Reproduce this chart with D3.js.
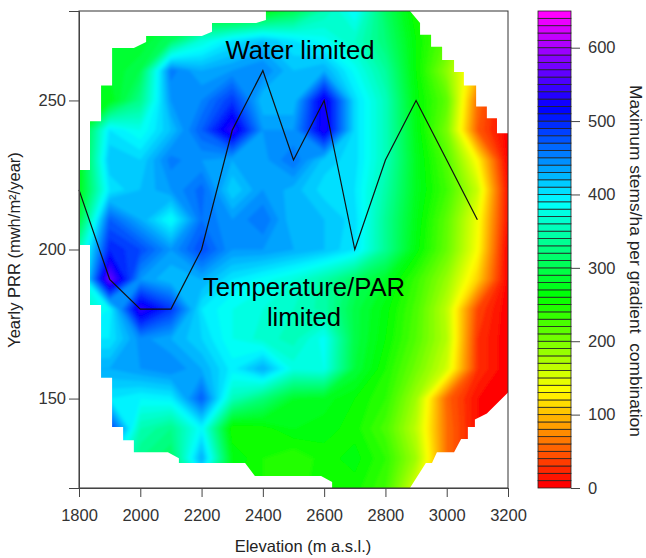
<!DOCTYPE html>
<html>
<head>
<meta charset="utf-8">
<title>Maximum stems per gradient combination</title>
<script src="https://cdn.jsdelivr.net/npm/d3@7"></script>
<style>
	html, body { margin: 0; padding: 0; background: #fff; }
	svg { display: block; font-family: "Liberation Sans", Arial, sans-serif; }
	.axis text { font-size: 16.5px; fill: #333; }
	.axis path, .axis line { stroke: #444; stroke-width: 1px; }
	.axis-title { font-size: 16.5px; fill: #222; }
	.note { font-size: 25.7px; fill: #000; text-anchor: middle; }
</style>
</head>
<body>
<svg id="chart" width="646" height="558"></svg>
<script>
// grid nodes of the surface
var aElevation = [1800,1900,2000,2100,2200,2300,2400,2500,2600,2700,2800,2900,3000,3100,3200];
var aPrr = [280,270,260,250,240,230,220,210,200,190,180,170,160,150,140,130,120];

// stems/ha, one row per aPrr entry
var aStems280 = [270,270,270,270,260,250,265,300,350,390,310,250,220,150,80];
var aStems270 = [280,280,280,310,370,400,420,400,385,360,320,260,215,120,40];
var aStems260 = [280,280,300,455,430,440,450,420,430,385,340,260,190,100,20];
var aStems250 = [270,270,330,440,450,490,420,420,530,405,355,265,215,60,0];
var aStems240 = [270,400,380,420,470,540,440,440,530,405,355,270,200,50,0];
var aStems230 = [270,420,410,455,440,430,435,460,415,405,355,275,220,130,0];
var aStems220 = [270,400,420,440,465,410,440,425,405,400,345,275,230,160,10];
var aStems210 = [290,470,430,385,460,440,460,420,420,405,335,270,215,140,10];
var aStems200 = [350,500,480,440,480,440,440,430,420,400,335,265,210,135,0];
var aStems190 = [350,570,440,420,430,400,385,370,345,310,280,235,185,110,0];
var aStems180 = [350,390,540,490,400,380,370,360,345,295,265,225,165,40,0];
var aStems170 = [400,400,445,430,410,380,365,355,385,295,260,220,170,30,0];
var aStems160 = [430,430,440,450,430,395,430,375,380,290,250,205,155,30,0];
var aStems150 = [400,400,390,395,470,355,320,280,275,260,240,180,55,10,0];
var aStems140 = [490,490,350,330,390,250,255,270,265,255,225,165,60,10,0];
var aStems130 = [400,400,330,310,430,270,250,240,255,265,240,180,60,10,0];
var aStems120 = [400,400,330,310,360,260,250,240,260,255,230,150,60,10,0];

var aStemRows = [aStems280,aStems270,aStems260,aStems250,aStems240,aStems230,aStems220,aStems210,
	aStems200,aStems190,aStems180,aStems170,aStems160,aStems150,aStems140,aStems130,aStems120];

// outline of the sampled area, elevation and PRR
var aOutlineElevation = [2410,2880,2913,2913,2949,2949,2985,2985,3024,3024,3056,3056,3096,3096,3131,3131,3164,3164,3200,3200,
	3131,3092,3092,3069,3069,3047,3024,2968,2952,2932,2880,2626,2626,2590,2374,2342,2126,2126,2090,1979,1979,1944,1944,1908,1908,
	1872,1872,1836,1836,1800,1800,1836,1836,1872,1872,1908,1908,1979,2019,2019,2201,2234,2234,2378,2410];
var aOutlinePrr = [280,280,276,272,272,268,268,263.6,263.6,259.5,259.5,255,255,248,248,244,244,239,239,152,
	145,143,140.5,140.5,136.4,136.4,132,132,128.4,128.4,120,120,122,124,124,128.4,128.4,130,132,132,136,136,140.5,140.5,157,
	157,181.4,181.4,201.5,201.5,226.7,226.7,243,243,255,255,267.6,267.6,269.6,271.6,271.6,273,276,276,277];

// limit line
var aLineElevation = [1800,1900,2000,2100,2200,2300,2400,2500,2600,2700,2800,2900,3000,3100];
var aLinePrr = [220,190,180,180,200,240,260,230,250,200,230,250,230,210];

var aElevationTicks = [1800,2000,2200,2400,2600,2800,3000,3200];
var aPrrTicks = [150,200,250];
var aLegendTicks = [0,100,200,300,400,500,600];
var aLevels = d3.range(0,650,10);

function DrawChart(vSelector)
{
	var sSvg = d3.select(vSelector);

	var nLeft = 79;
	var nRight = 508;
	var nTop = 11;
	var nBottom = 488;
	var nLegendLeft = 538;
	var nLegendRight = 571;

	var scaleX = d3.scaleLinear().domain([1800,3200]).range([nLeft,nRight]);
	var scaleY = d3.scaleLinear().domain([120,280]).range([nBottom,nTop]);
	var scaleLegend = d3.scaleLinear().domain([0,650]).range([nBottom,nTop]);

	function LevelColor(nLevel)
	{
		return d3.hsl(300 * aLevels.indexOf(nLevel) / (aLevels.length - 1), 1, 0.5).formatHex();
	}

	var sDefs = sSvg.append('defs');

	sDefs.append('clipPath')
		.attr('id', 'area-clip')
		.append('path')
			.attr('d', d3.line()
				.x(function(d) { return scaleX(d); })
				.y(function(d,i) { return scaleY(aOutlinePrr[i]); })
				.curve(d3.curveLinearClosed)(aOutlineElevation));

	// bands are softer in the reference
	sDefs.append('filter')
		.attr('id', 'soft')
		.attr('x', '-5%').attr('y', '-5%').attr('width', '110%').attr('height', '110%')
		.append('feGaussianBlur')
			.attr('stdDeviation', 1.6);

	var nStepX = aElevation[1] - aElevation[0];
	var nStepY = aPrr[0] - aPrr[1];
	var pathGrid = d3.geoPath(d3.geoTransform({
		point: function(x,y)
		{
			this.stream.point(
				scaleX(aElevation[0] + (x - 0.5) * nStepX),
				scaleY(aPrr[0] - (y - 0.5) * nStepY));
		}
	}));

	var aContours = d3.contours()
		.size([aElevation.length, aPrr.length])
		.thresholds(aLevels)
		(d3.merge(aStemRows));

	sSvg.append('g')
		.attr('clip-path', 'url(#area-clip)')
		.append('g')
			.attr('filter', 'url(#soft)')
			.selectAll('path')
			.data(aContours)
			.enter()
				.append('path')
					.attr('d', pathGrid)
					.attr('fill', function(d) { return LevelColor(d.value); })
					.attr('stroke', function(d) { return LevelColor(d.value); })
					.attr('stroke-width', 0.5);

	// limit line
	sSvg.append('path')
		.attr('d', d3.line()
			.x(function(d) { return scaleX(d); })
			.y(function(d,i) { return scaleY(aLinePrr[i]); })(aLineElevation))
		.attr('fill', 'none')
		.attr('stroke', '#111')
		.attr('stroke-width', 1.2);

	// frame and axes
	sSvg.append('rect')
		.attr('x', nLeft)
		.attr('y', nTop)
		.attr('width', nRight - nLeft)
		.attr('height', nBottom - nTop)
		.attr('fill', 'none')
		.attr('stroke', '#333');

	sSvg.append('g')
		.attr('class', 'axis')
		.attr('transform', 'translate(0,' + nBottom + ')')
		.call(d3.axisBottom(scaleX).tickValues(aElevationTicks).tickFormat(d3.format('d')).tickSizeOuter(0).tickSize(9).tickPadding(12));

	sSvg.append('g')
		.attr('class', 'axis')
		.attr('transform', 'translate(' + nLeft + ',0)')
		.call(d3.axisLeft(scaleY).tickValues(aPrrTicks).tickSizeOuter(0).tickSize(10).tickPadding(3));

	// legend
	sSvg.append('g')
		.selectAll('rect')
		.data(aLevels)
		.enter()
			.append('rect')
				.attr('x', nLegendLeft)
				.attr('width', nLegendRight - nLegendLeft)
				.attr('y', function(d) { return scaleLegend(d + 10); })
				.attr('height', function(d) { return scaleLegend(d) - scaleLegend(d + 10); })
				.attr('fill', function(d) { return LevelColor(d); })
				.attr('stroke', '#222')
				.attr('stroke-width', 0.8);

	sSvg.append('g')
		.attr('class', 'axis')
		.attr('transform', 'translate(' + nLegendRight + ',0)')
		.call(d3.axisRight(scaleLegend).tickValues(aLegendTicks).tickSizeOuter(0).tickSize(9).tickPadding(8))
		.select('.domain').remove();

	// titles
	sSvg.append('text')
		.attr('class', 'axis-title')
		.attr('x', 303)
		.attr('y', 552)
		.attr('text-anchor', 'middle')
		.text('Elevation (m a.s.l.)');

	sSvg.append('text')
		.attr('class', 'axis-title')
		.attr('transform', 'translate(20,250) rotate(-90)')
		.attr('text-anchor', 'middle')
		.text('Yearly PRR (mwh/m\u00B2/year)');

	sSvg.append('text')
		.attr('class', 'axis-title')
		.attr('transform', 'translate(630,261) rotate(90)')
		.attr('text-anchor', 'middle')
		.style('font-size', '17.4px')
		.style('white-space', 'pre')
		.text('Maximum stems/ha per gradient  combination');

	// annotations
	sSvg.append('text').attr('class', 'note').attr('x', 300).attr('y', 59).text('Water limited');
	sSvg.append('text').attr('class', 'note').attr('x', 304).attr('y', 296).text('Temperature/PAR');
	sSvg.append('text').attr('class', 'note').attr('x', 304).attr('y', 326).text('limited');
}

DrawChart('#chart');
</script>
</body>
</html>
